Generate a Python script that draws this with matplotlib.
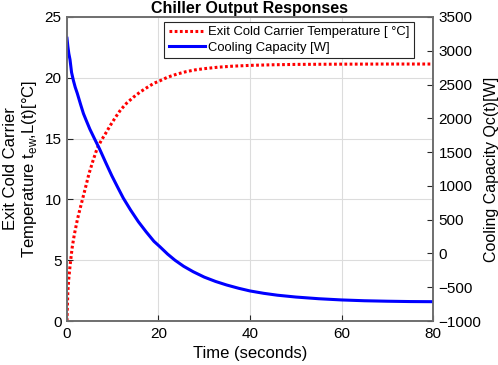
import matplotlib.pyplot as plt

plt.rcParams['font.family'] = ['Liberation Sans', 'DejaVu Sans']

# exit cold carrier temperature [C]
t_temp = [0, 0.1, 0.2, 0.4, 0.66, 0.9, 1.16, 1.6, 2.25, 2.8, 3.35, 4.0, 4.8, 5.7, 6.6, 7.5,
          8.4, 9.5, 10.6, 11.7, 13.0, 14.5, 16.1, 17.5, 19.0, 20.3, 22.0, 24.0, 26.0, 28.0,
          30.0, 33.0, 36.0, 40.0, 45.0, 50.0, 60.0, 70.0, 80.0]
temp = [0, 1.4, 2.5, 3.5, 4.5, 5.3, 6.1, 7.1, 8.3, 9.15, 9.95, 10.9, 12.1, 13.2, 14.2, 14.85,
        15.4, 16.1, 16.75, 17.35, 17.9, 18.4, 18.86, 19.2, 19.55, 19.75, 20.05, 20.3, 20.5,
        20.65, 20.75, 20.87, 20.95, 21.02, 21.07, 21.1, 21.12, 21.13, 21.13]

# cooling capacity [W]
t_cap = [0, 0.2, 0.4, 0.66, 1.0, 1.4, 1.8, 2.25, 3.0, 3.6, 4.2, 5.0, 6.0, 7.1, 8.5, 9.8,
         11.0, 12.3, 13.9, 15.6, 17.3, 19.0, 20.3, 22.0, 23.6, 25.5, 27.6, 30.0, 32.5, 34.9,
         37.5, 40.0, 43.0, 46.0, 50.0, 55.0, 60.0, 65.0, 70.0, 75.0, 80.0]
cap = [3185, 3060, 2960, 2870, 2680, 2560, 2460, 2370, 2200, 2070, 1970, 1840, 1700, 1550,
       1340, 1150, 990, 820, 643, 470, 320, 180, 100, -10, -100, -190, -271, -350, -415,
       -467, -515, -555, -590, -618, -645, -670, -688, -700, -707, -712, -714]

fig = plt.figure(figsize=(4.98, 3.65), dpi=100)
ax = fig.add_axes([0.1345, 0.1205, 0.735, 0.833])
ax2 = ax.twinx()

l1, = ax.plot(t_temp, temp, color='red', lw=2.2, dashes=(0.9, 0.8),
              label='Exit Cold Carrier Temperature [ °C]')
l2, = ax2.plot(t_cap, cap, '-', color='blue', lw=2.2, label='Cooling Capacity [W]')

ax.set_xlim(0, 80)
ax.set_ylim(0, 25)
ax2.set_ylim(-1000, 3500)
ax.set_xticks([0, 20, 40, 60, 80])
ax.set_yticks([0, 5, 10, 15, 20, 25])
ax2.set_yticks(range(-1000, 3501, 500))
ax.grid(True, color='#dcdcdc', lw=0.8)
ax.set_axisbelow(True)

for a in (ax, ax2):
    a.tick_params(direction='in', labelsize=11, length=4, color='#262626', pad=4)
    for s in a.spines.values():
        s.set_color('#6e6e6e')
        s.set_linewidth(1.2)

ax.set_xlabel('Time (seconds)', fontsize=12)
ax.set_ylabel('Exit Cold Carrier\nTemperature t$_{\\mathregular{ew}}$,L(t)[°C]', fontsize=12, linespacing=1.1)
ax2.set_ylabel('Cooling Capacity Qc(t)[W]', fontsize=11.5, labelpad=2)
ax.set_title('Chiller Output Responses', fontsize=11.5, fontweight='bold', pad=3)

leg = ax.legend(handles=[l1, l2], loc='upper right', bbox_to_anchor=(0.947, 0.985),
                fontsize=9.4, fancybox=False, framealpha=1, edgecolor='#262626',
                borderpad=0.35, handlelength=2.8, handletextpad=0.2, labelspacing=0.25,
                borderaxespad=0)
leg.get_frame().set_linewidth(0.8)

fig.savefig('out.png', dpi=100)
